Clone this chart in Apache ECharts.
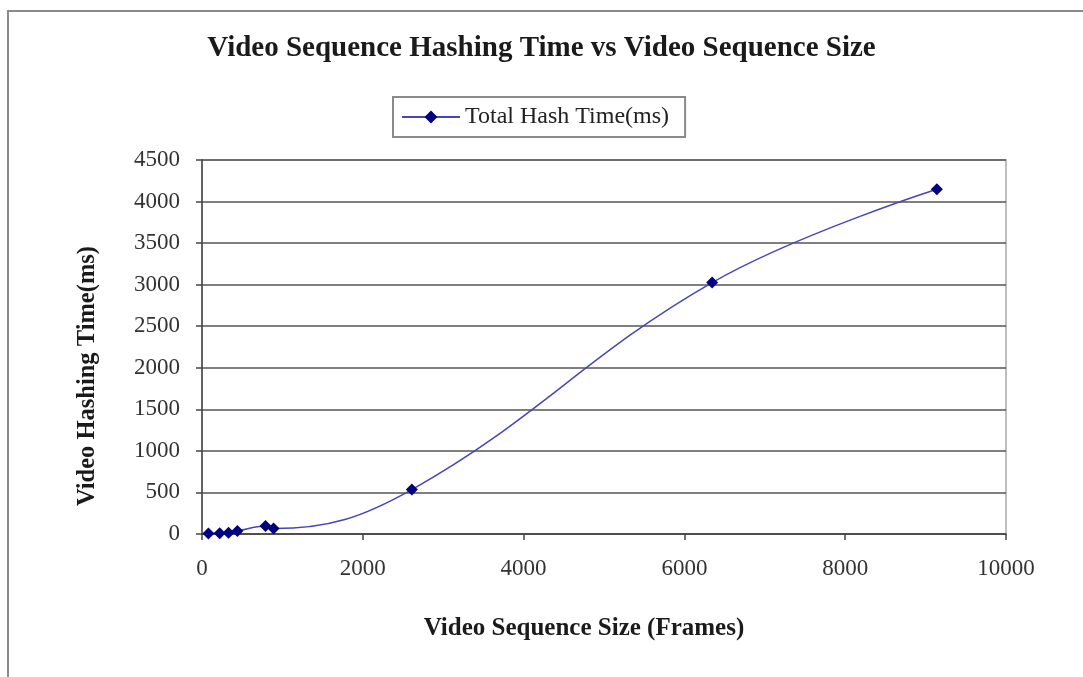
<!DOCTYPE html>
<html>
<head>
<meta charset="utf-8">
<script src="https://cdn.jsdelivr.net/npm/echarts@6/dist/echarts.min.js"></script>
<style>
  html, body { margin: 0; padding: 0; background: #fff; }
  #chart { width: 1083px; height: 677px; }
</style>
</head>
<body>
<div id="chart"></div>
<script>
// Sequence sizes (frames) and the measured total hashing time (ms)
const frames = [80, 220, 330, 440, 790, 890, 2610, 6345, 9140];
const hashTimeMs = [5, 10, 15, 35, 95, 65, 535, 3025, 4148];
const seriesName = 'Total Hash Time(ms)';
const xAxisTitle = 'Video Sequence Size (Frames)';
const yAxisTitle = 'Video Hashing Time(ms)';

const points = frames.map((f, i) => [f, hashTimeMs[i]]);
const serif = '"Liberation Serif", "Times New Roman", serif';
const plain = v => String(v);

const chart = echarts.init(document.getElementById('chart'), null, { renderer: 'canvas' });
chart.setOption({
  backgroundColor: '#ffffff',
  animation: false,
  title: {
    text: 'Video Sequence Hashing Time vs Video Sequence Size',
    left: 'center',
    top: 29,
    textStyle: { fontFamily: serif, fontWeight: 'bold', fontSize: 29, color: '#1a1a1a' }
  },
  graphic: [
    // outer chart frame
    { type: 'rect', shape: { x: 8, y: 11, width: 1200, height: 800 },
      style: { fill: 'none', stroke: '#8a8a8a', lineWidth: 2 }, z: -1 },
    // axis titles
    { type: 'text', x: 584, y: 629,
      style: { text: xAxisTitle, fontFamily: serif, fontWeight: 'bold', fontSize: 25,
               fill: '#1a1a1a', align: 'center', verticalAlign: 'middle' } },
    { type: 'text', x: 88, y: 376, rotation: Math.PI / 2,
      style: { text: yAxisTitle, fontFamily: serif, fontWeight: 'bold', fontSize: 24.5,
               fill: '#1a1a1a', align: 'center', verticalAlign: 'middle' } }
  ],
  legend: {
    left: 393,
    top: 97,
    orient: 'horizontal',
    padding: [8, 16, 8, 8],
    itemWidth: 58,
    itemHeight: 16,
    itemGap: 4,
    borderColor: '#8a8a8a',
    borderWidth: 2,
    textStyle: { fontFamily: serif, fontSize: 24, color: '#222' },
    data: [seriesName]
  },
  grid: {
    left: 202,
    right: 77,
    top: 160,
    bottom: 143,
    show: true,
    borderColor: '#aaaaaa',
    borderWidth: 1.5,
    containLabel: false
  },
  xAxis: {
    type: 'value',
    min: 0,
    max: 10000,
    interval: 2000,
    axisLine: { show: true, lineStyle: { color: '#444', width: 1.5 } },
    axisTick: { show: true, inside: false, length: 6, lineStyle: { color: '#444', width: 1.5 } },
    axisLabel: { fontFamily: serif, fontSize: 23, color: '#333', margin: 23, formatter: plain },
    splitLine: { show: false }
  },
  yAxis: {
    type: 'value',
    min: 0,
    max: 4500,
    interval: 500,
    axisLine: { show: true, lineStyle: { color: '#444', width: 1.5 } },
    axisTick: { show: true, inside: false, length: 6, lineStyle: { color: '#444', width: 1.5 } },
    axisLabel: { fontFamily: serif, fontSize: 23, color: '#333', margin: 22, formatter: plain },
    splitLine: { show: true, lineStyle: { color: '#555', width: 1.5 } }
  },
  series: [{
    name: seriesName,
    type: 'line',
    data: points,
    smooth: 0.4,
    symbol: 'diamond',
    symbolSize: 12,
    lineStyle: { color: '#4646b8', width: 1.5 },
    itemStyle: { color: '#000080' },
    z: 5
  }]
});
</script>
</body>
</html>
